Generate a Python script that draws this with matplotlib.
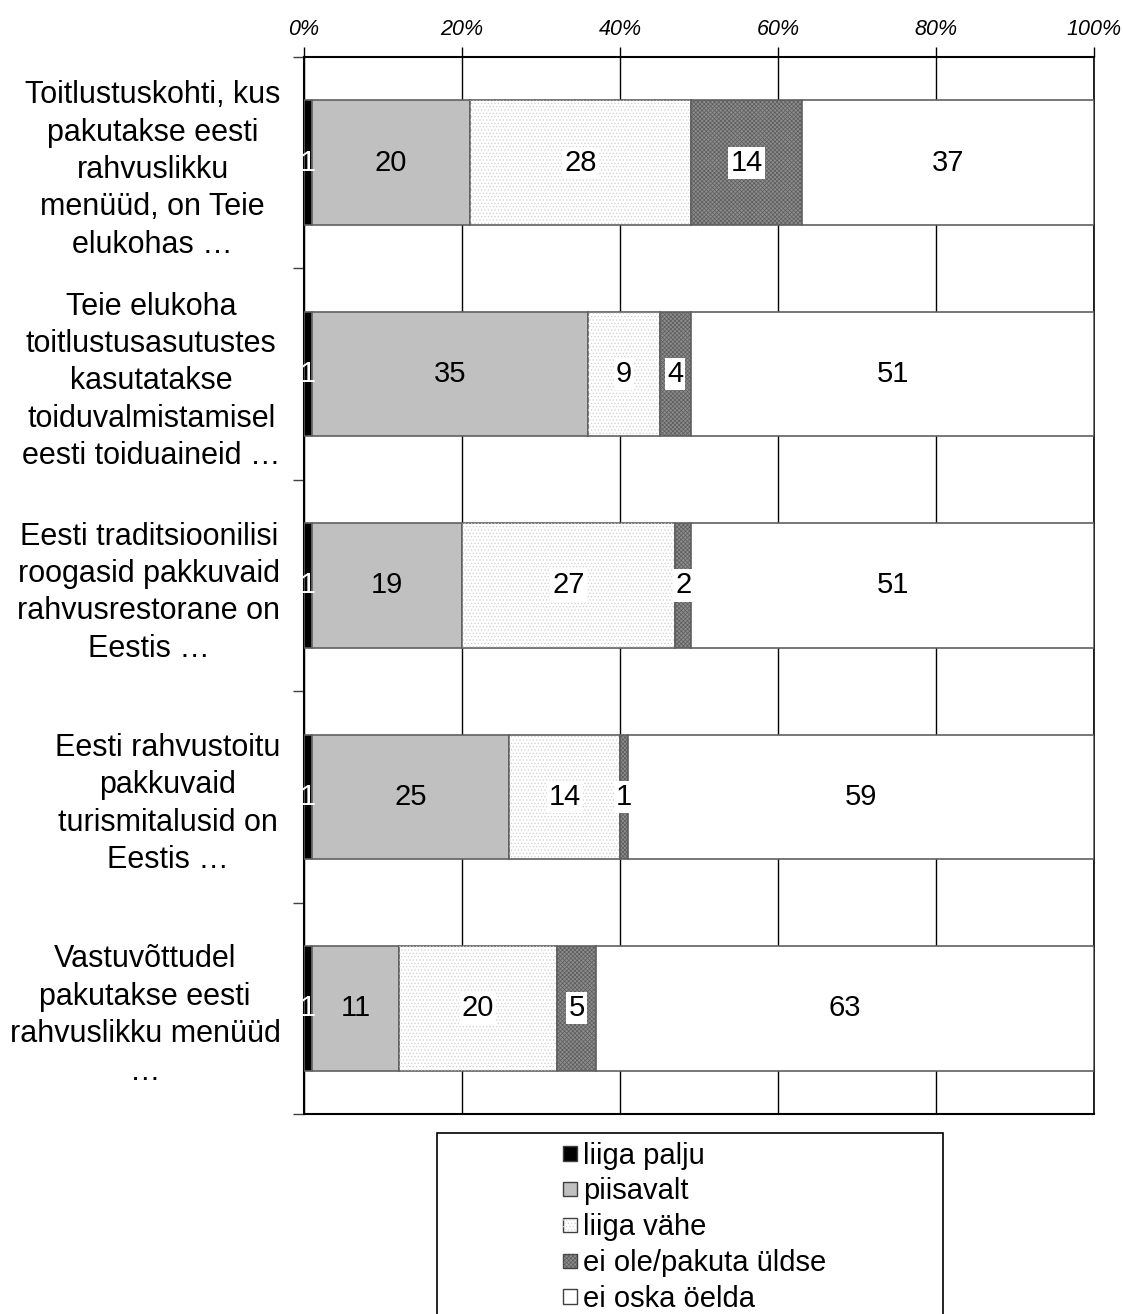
import matplotlib.pyplot as plt
from matplotlib.patches import Patch, Rectangle
from matplotlib.legend_handler import HandlerTuple, HandlerPatch
import numpy as np


plt.rcParams['font.family'] = ['Liberation Sans', 'DejaVu Sans']
plt.rcParams['hatch.linewidth'] = 0.5

questions = [
    'Toitlustuskohti, kus\npakutakse eesti\nrahvuslikku\nmenüüd, on Teie\nelukohas …',
    'Teie elukoha\ntoitlustusasutustes\nkasutatakse\ntoiduvalmistamisel\neesti toiduaineid …',
    'Eesti traditsioonilisi\nroogasid pakkuvaid\nrahvusrestorane on\nEestis …',
    'Eesti rahvustoitu\npakkuvaid\nturismitalusid on\nEestis …',
    'Vastuvõttudel\npakutakse eesti\nrahvuslikku menüüd\n…',
]

answers = ['liiga palju', 'piisavalt', 'liiga vähe', 'ei ole/pakuta üldse', 'ei oska öelda']

liiga_palju = [1, 1, 1, 1, 1]
piisavalt = [20, 35, 19, 25, 11]
liiga_vahe = [28, 9, 27, 14, 20]
ei_ole = [14, 4, 2, 1, 5]
ei_oska = [37, 51, 51, 59, 63]

series = [liiga_palju, piisavalt, liiga_vahe, ei_ole, ei_oska]

# face, hatch, hatch colour, label colour, white box behind label
STYLES = [
    ('#000000', None, None, 'white', False),
    ('#c0c0c0', None, None, 'black', False),
    ('#ffffff', '.....', '#cfcfcf', 'black', True),
    ('#8c8c8c', 'xxxxxxxx', '#5c5c5c', 'black', True),
    ('#ffffff', None, None, 'black', False),
]

SQ = 10.5  # legend square side, points


def make_square(legend, orig_handle, xdescent, ydescent, width, height, fontsize):
    return Rectangle((-xdescent, -ydescent + (height - SQ) / 2), SQ, SQ)


W, H = 1123, 1314
fig = plt.figure(figsize=(W / 100, H / 100), dpi=100)
ax = fig.add_axes([304 / W, 1 - 1114 / H, (1094 - 304) / W, (1114 - 57) / H])

y = np.arange(len(questions))
left = np.zeros(len(questions))
handles = []
for vals, (face, hatch, hcol, tcol, box) in zip(series, STYLES):
    vals = np.array(vals, dtype=float)
    ax.barh(y, vals, left=left, height=0.59, color=face, edgecolor='#606060',
            linewidth=1.2, zorder=3)
    h_face = Patch(facecolor=face, edgecolor='#404040', linewidth=1)
    if hatch:
        ax.barh(y, vals, left=left, height=0.59, color='none', edgecolor=hcol,
                hatch=hatch, linewidth=0, zorder=3)
        handles.append((h_face, Patch(facecolor='none', edgecolor=hcol, hatch=hatch, linewidth=0)))
    else:
        handles.append(h_face)
    for yi, l, v in zip(y, left, vals):
        kw = {}
        if box:
            kw['bbox'] = dict(facecolor='white', edgecolor='none', pad=1.5)
        ax.text(l + v / 2, yi, f'{int(v)}', ha='center', va='center',
                fontsize=21, color=tcol, zorder=5, **kw)
    left += vals

ax.set_xlim(0, 100)
ax.set_ylim(len(questions) - 0.5, -0.5)

ax.xaxis.tick_top()
ax.set_xticks(np.arange(0, 101, 20))
ax.set_xticklabels([f'{v}%' for v in range(0, 101, 20)], fontsize=15.5, style='italic')
ax.tick_params(axis='x', direction='out', length=7, width=1, pad=5.5)
ax.xaxis.grid(True, color='black', linewidth=1, zorder=0)

ax.set_yticks(y)
ax.set_yticklabels(questions, fontsize=22, ha='right', multialignment='center',
                   linespacing=1.32)
ax.tick_params(axis='y', which='major', length=0, pad=17)
ax.set_yticks(np.arange(-0.5, len(questions), 1), minor=True)
ax.tick_params(axis='y', which='minor', direction='out', length=8, width=1, color='#404040')

for s in ['top', 'left', 'bottom']:
    ax.spines[s].set_linewidth(1.5)
ax.spines['right'].set_linewidth(1.2)
ax.set_axisbelow(True)

# legend box runs off the bottom of the picture
fig.patches.append(Rectangle((437 / W, -0.05), (943 - 437) / W, 0.05 + 1 - 1133 / H,
                             transform=fig.transFigure, facecolor='white',
                             edgecolor='black', linewidth=1.2, clip_on=False))
fig.legend(handles, answers, loc='upper left', bbox_to_anchor=(548 / W, 1 - 1127 / H),
           frameon=False, fontsize=21, handlelength=0.5, handleheight=0.5,
           handletextpad=0.2, labelspacing=0.27, borderpad=0,
           handler_map={tuple: HandlerTuple(ndivide=1, pad=0),
                        Patch: HandlerPatch(patch_func=make_square)})

fig.savefig('out.png', dpi=100)
